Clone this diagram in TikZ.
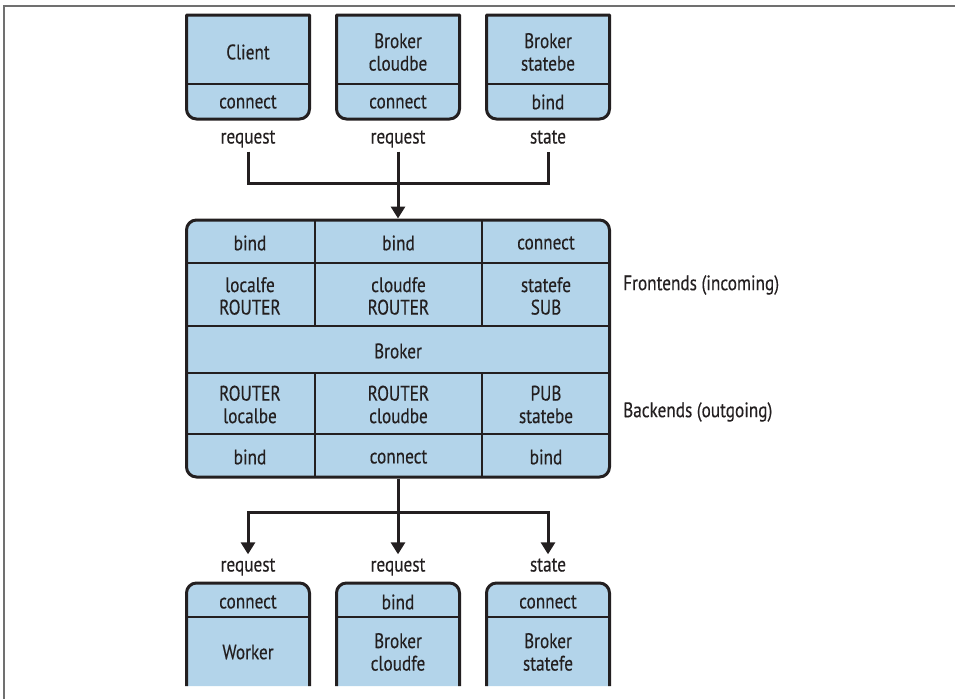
\documentclass[tikz,border=0pt]{standalone}
\usepackage{fontspec}
\setmainfont{PT Sans}[FakeStretch=0.82,FakeBold=0.3]
\usepackage{tikz}
\usetikzlibrary{arrows.meta,positioning}
\definecolor{ZmqBlue}{HTML}{B3D4EA}
\definecolor{ZmqInk}{HTML}{231F20}
\definecolor{FrameGrey}{HTML}{707070}

\begin{document}
\begin{tikzpicture}[x=1pt,y=-1pt,font=\fontsize{21}{22.5}\selectfont,
  txt/.style={align=center,inner sep=2pt,text=ZmqInk},
  lbl/.style={txt,inner sep=3pt,text height=14pt,text depth=5pt},
  wire/.style={ZmqInk,line width=3pt},
  flow/.style={wire,-{Triangle[length=12pt,width=14pt]}},
  rim/.style={ZmqInk,line width=3pt,fill=ZmqBlue,line join=round},
  cut/.style={ZmqInk,line width=2.4pt}]
  \useasboundingbox (0,0) rectangle (955,699);
  \draw[FrameGrey,line width=2pt] (4,699) -- (4,5.5) -- (955,5.5);

  % sockets that feed the broker
  \foreach \cx/\nm/\title/\sock/\msg in {248/client/Client/connect/request,
      398/cloudbe/{Broker\\cloudbe}/connect/request,
      548/statebe/{Broker\\statebe}/bind/state} {
    \filldraw[rim] (\cx-61.5,60) [rounded corners=10pt] -- (\cx-61.5,119)
      -- (\cx+61.5,119) -- (\cx+61.5,60) [sharp corners] -- (\cx+61.5,15)
      -- (\cx-61.5,15) -- cycle;
    \draw[cut] (\cx-61.5,84) -- (\cx+61.5,84);
    \node[txt] (\nm) at (\cx,52) {\title};
    \node[txt] (\nm-sock) at (\cx,102) {\sock};
    \node[lbl] (\nm-out) at (\cx,139) {\msg};
  }

  % the broker itself
  \node[rim,draw,rounded corners=10pt,minimum width=423pt,minimum height=257pt,
    inner sep=0pt] (broker) at (398,348.5) {};
  \foreach \ry in {263,326,373,434}
    \draw[cut] (186.5,\ry) -- (609.5,\ry);
  \foreach \vx in {315,482} {
    \draw[cut] (\vx,220) -- (\vx,326);
    \draw[cut] (\vx,373) -- (\vx,477);
  }
  \foreach \cx/\nm/\fesock/\fe/\be/\besock in {250/local/bind/{localfe\\ROUTER}/{ROUTER\\localbe}/bind,
      398.5/cloud/bind/{cloudfe\\ROUTER}/{ROUTER\\cloudbe}/connect,
      546/state/connect/{statefe\\SUB}/{PUB\\statebe}/bind} {
    \node[txt] (\nm-fesock) at (\cx,243) {\fesock};
    \node[txt] (\nm-fe) at (\cx,296) {\fe};
    \node[txt] (\nm-be) at (\cx,404.5) {\be};
    \node[txt] (\nm-besock) at (\cx,457) {\besock};
  }
  \node[txt] (core) at (398,351) {Broker};
  \node[txt,anchor=west] (fe-note) at (621,285) {Frontends (incoming)};
  \node[txt,anchor=west] (be-note) at (621,412) {Backends (outgoing)};

  % sockets fed by the broker
  \foreach \cx/\nm/\sock/\title/\msg in {248/worker/connect/Worker/request,
      398/cloudfe/bind/{Broker\\cloudfe}/request,
      548/statefe/connect/{Broker\\statefe}/state} {
    \fill[ZmqBlue] (\cx-61.5,686) -- (\cx-61.5,640) [rounded corners=10pt]
      -- (\cx-61.5,583) -- (\cx+61.5,583) -- (\cx+61.5,640) [sharp corners]
      -- (\cx+61.5,686) -- cycle;
    \draw[rim,fill=none] (\cx-61.5,686) -- (\cx-61.5,640) [rounded corners=10pt]
      -- (\cx-61.5,583) -- (\cx+61.5,583) -- (\cx+61.5,640) [sharp corners]
      -- (\cx+61.5,686);
    \draw[cut] (\cx-61.5,617) -- (\cx+61.5,617);
    \node[txt] (\nm-sock) at (\cx,602) {\sock};
    \node[txt] (\nm) at (\cx,652) {\title};
    \node[lbl] (\nm-in) at (\cx,567) {\msg};
  }

  % connectors
  \coordinate (merge) at (398,183);
  \coordinate (split) at (398,512);
  \draw[wire] (client-out.south) |- (merge) -| (statebe-out.south);
  \draw[flow] (cloudbe-out.south) -- (broker.north);
  \draw[wire] (broker.south) -- (split);
  \draw[flow] (split) -- (cloudfe-in.north);
  \draw[flow] (split) -| (worker-in.north);
  \draw[flow] (split) -| (statefe-in.north);
\end{tikzpicture}
\end{document}
